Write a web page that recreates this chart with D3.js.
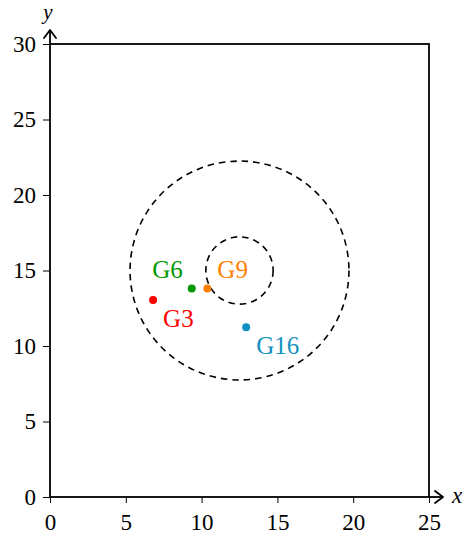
<!DOCTYPE html>
<html>
<head>
<meta charset="utf-8">
<script src="https://cdn.jsdelivr.net/npm/d3@7"></script>
<style>
  body { margin: 0; background: #fff; }
  text { font-family: "Liberation Serif", "Times New Roman", serif; }
</style>
</head>
<body>
<div id="vis"></div>
<script>
// points
const names = ["G3", "G6", "G9", "G16"];
const xs = [6.8, 9.35, 10.38, 12.94];
const ys = [13.05, 13.8, 13.8, 11.25];
const colors = ["#ff0000", "#009900", "#ff8000", "#1490c0"];
// label placement: which side of the point
const labelPos = ["below right", "above left", "above right", "below right"];

// dashed circles (centre + radius in data units)
const circleCx = [12.5, 12.5];
const circleCy = [15, 15];
const circleR = [7.22, 2.22];

const xTicks = [0, 5, 10, 15, 20, 25];
const yTicks = [0, 5, 10, 15, 20, 25, 30];

const width = 464, height = 540;

const svg = d3.select("#vis").append("svg")
    .attr("width", width)
    .attr("height", height);

const x = d3.scaleLinear().domain([0, 25]).range([50, 429]);
const y = d3.scaleLinear().domain([0, 30]).range([497, 44]);

// frame
svg.append("rect")
    .attr("x", x(0)).attr("y", y(30))
    .attr("width", x(25) - x(0)).attr("height", y(0) - y(30))
    .attr("fill", "none").attr("stroke", "#000").attr("stroke-width", 1.8);

// axes with d3 axis, ticks outward
const xAxis = svg.append("g")
    .attr("transform", "translate(0," + y(0) + ")")
    .call(d3.axisBottom(x).tickValues(xTicks).tickSize(6).tickPadding(6).tickFormat(d3.format("d")));
const yAxis = svg.append("g")
    .attr("transform", "translate(" + x(0) + ",0)")
    .call(d3.axisLeft(y).tickValues(yTicks).tickSize(7).tickPadding(7).tickFormat(d3.format("d")));

[xAxis, yAxis].forEach((ax) => {
  ax.select(".domain").remove();
  ax.selectAll(".tick line").attr("stroke", "#000").attr("stroke-width", 1);
  ax.selectAll(".tick text")
      .attr("fill", "#000")
      .style("font-family", "'Liberation Serif', serif")
      .style("font-size", "23px");
});
xAxis.selectAll(".tick text").attr("dy", "0.9em");

// arrow lines past the frame
const arrowPath = (tx, ty, dir) => {
  // open chevron, dir = 'x' or 'y'
  if (dir === "x") return `M${tx - 8},${ty - 6}L${tx},${ty}L${tx - 8},${ty + 6}`;
  return `M${tx - 6},${ty + 8}L${tx},${ty}L${tx + 6},${ty + 8}`;
};
svg.append("line")
    .attr("x1", x(25)).attr("y1", y(0)).attr("x2", x(25) + 14).attr("y2", y(0))
    .attr("stroke", "#000").attr("stroke-width", 1.8);
svg.append("path")
    .attr("d", arrowPath(x(25) + 14, y(0), "x"))
    .attr("fill", "none").attr("stroke", "#000").attr("stroke-width", 1.8)
    .attr("stroke-linejoin", "round").attr("stroke-linecap", "round");
svg.append("line")
    .attr("x1", x(0)).attr("y1", y(30)).attr("x2", x(0)).attr("y2", y(30) - 14)
    .attr("stroke", "#000").attr("stroke-width", 1.8);
svg.append("path")
    .attr("d", arrowPath(x(0), y(30) - 14, "y"))
    .attr("fill", "none").attr("stroke", "#000").attr("stroke-width", 1.8)
    .attr("stroke-linejoin", "round").attr("stroke-linecap", "round");

// axis labels
svg.append("text")
    .attr("x", 452).attr("y", y(0) + 6)
    .style("font-size", "23px").style("font-style", "italic")
    .text("x");
svg.append("text")
    .attr("x", x(0) - 2).attr("y", 19)
    .attr("text-anchor", "middle")
    .style("font-size", "21px").style("font-style", "italic")
    .text("y");

// dashed circles
svg.selectAll(".ring")
    .data(circleR)
    .enter()
    .append("circle")
    .attr("class", "ring")
    .attr("cx", (d, i) => x(circleCx[i]))
    .attr("cy", (d, i) => y(circleCy[i]))
    .attr("r", (d) => x(d) - x(0))
    .attr("fill", "none")
    .attr("stroke", "#000")
    .attr("stroke-width", 1.6)
    .attr("stroke-dasharray", "6.5,5");

// points
svg.selectAll(".pt")
    .data(names)
    .enter()
    .append("circle")
    .attr("class", "pt")
    .attr("cx", (d, i) => x(xs[i]))
    .attr("cy", (d, i) => y(ys[i]))
    .attr("r", 4)
    .attr("fill", (d, i) => colors[i]);

// point labels
svg.selectAll(".lbl")
    .data(names)
    .enter()
    .append("text")
    .attr("class", "lbl")
    .attr("x", (d, i) => x(xs[i]) + (labelPos[i].includes("left") ? -9 : 10))
    .attr("y", (d, i) => y(ys[i]) + (labelPos[i].includes("above") ? -11 : 27))
    .attr("text-anchor", (d, i) => labelPos[i].includes("left") ? "end" : "start")
    .attr("fill", (d, i) => colors[i])
    .style("font-size", "25px")
    .text((d) => d);
</script>
</body>
</html>
